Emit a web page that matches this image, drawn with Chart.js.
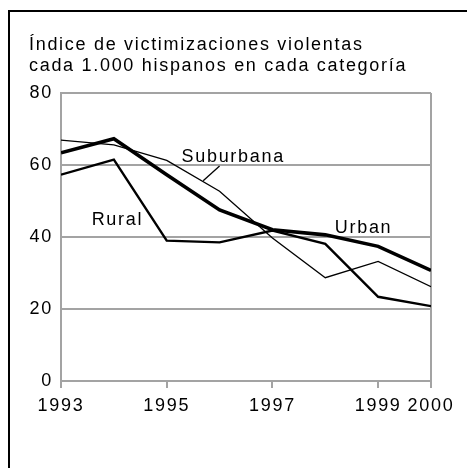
<!DOCTYPE html>
<html>
<head>
<meta charset="utf-8">
<script src="https://cdn.jsdelivr.net/npm/chart.js@4/dist/chart.umd.min.js"></script>
<style>
  body { margin: 0; background: #fff; }
  #marco { position: absolute; left: 8px; top: 10px; width: 600px; height: 600px;
           border-top: 2px solid #000; border-left: 2px solid #000; }
  #grafico { position: absolute; left: 0; top: 0; }
</style>
</head>
<body>
<div id="marco"></div>
<canvas id="grafico" width="467" height="468"></canvas>
<script>
// datos
const years = [1993, 1994, 1995, 1996, 1997, 1998, 1999, 2000];
const urban = [63.4, 67.3, 57.3, 47.5, 42.0, 40.6, 37.4, 30.7];
const suburbana = [66.9, 65.6, 61.3, 52.7, 39.7, 28.7, 33.2, 26.2];
const rural = [57.3, 61.5, 39.0, 38.5, 41.8, 38.1, 23.4, 20.8];
const xTicks = [1993, 1995, 1997, 1999, 2000];
const yTicks = [0, 20, 40, 60, 80];
const titulo = ['Índice de victimizaciones violentas', 'cada 1.000 hispanos en cada categoría'];

// etiquetas de las series (posición en unidades de los ejes)
const etiquetas = [
  { text: 'Suburbana', x: 1995.28, y: 60.7 },
  { text: 'Rural', x: 1993.58, y: 43.3 },
  { text: 'Urban', x: 1998.18, y: 41.2 }
];
const guiaSuburbana = [[1996.0, 59.7], [1995.69, 55.6]];

const gris = '#a3a3a3';
const fuente = '"Liberation Sans", Arial, Helvetica, sans-serif';

const toPoints = (vals) => vals.map((v, i) => ({ x: years[i], y: v }));

const espaciado = {
  id: 'espaciado',
  beforeLayout(chart) { chart.ctx.letterSpacing = '1.7px'; },
  beforeDraw(chart) { chart.ctx.letterSpacing = '1.7px'; },
  afterDatasetsDraw(chart) {
    const ctx = chart.ctx;
    const sx = chart.scales.x, sy = chart.scales.y;
    ctx.save();
    ctx.font = '18px ' + fuente;
    ctx.fillStyle = '#000';
    ctx.textBaseline = 'alphabetic';
    ctx.textAlign = 'left';
    etiquetas.forEach(e => {
      ctx.fillText(e.text, sx.getPixelForValue(e.x), sy.getPixelForValue(e.y));
    });
    ctx.strokeStyle = '#000';
    ctx.lineWidth = 1.3;
    ctx.beginPath();
    ctx.moveTo(sx.getPixelForValue(guiaSuburbana[0][0]), sy.getPixelForValue(guiaSuburbana[0][1]));
    ctx.lineTo(sx.getPixelForValue(guiaSuburbana[1][0]), sy.getPixelForValue(guiaSuburbana[1][1]));
    ctx.stroke();
    ctx.restore();
  }
};

const ctx = document.getElementById('grafico').getContext('2d');
const myChart = new Chart(ctx, {
  type: 'line',
  data: {
    datasets: [
      { label: 'Urban', data: toPoints(urban), borderColor: '#000', borderWidth: 3.6 },
      { label: 'Suburbana', data: toPoints(suburbana), borderColor: '#000', borderWidth: 1.3 },
      { label: 'Rural', data: toPoints(rural), borderColor: '#000', borderWidth: 2.4 }
    ]
  },
  options: {
    responsive: false,
    animation: false,
    devicePixelRatio: 1,
    layout: { padding: { left: 29, right: 36, top: 0, bottom: 47 } },
    elements: { point: { radius: 0 }, line: { tension: 0, fill: false } },
    plugins: {
      legend: { display: false },
      tooltip: { enabled: false },
      title: {
        display: true,
        text: titulo,
        align: 'start',
        color: '#000',
        font: { family: fuente, size: 18, weight: 'normal', lineHeight: '21px' },
        padding: { top: 35, bottom: 16 }
      }
    },
    scales: {
      x: {
        type: 'linear',
        min: 1993,
        max: 2000,
        afterBuildTicks: (scale) => { scale.ticks = xTicks.map(v => ({ value: v })); },
        afterFit: (scale) => { scale.height = 40; },
        ticks: {
          color: '#000',
          font: { family: fuente, size: 18 },
          padding: 7,
          maxRotation: 0,
          autoSkip: false,
          callback: (v) => String(v)
        },
        grid: {
          color: (c) => (c.tick && (c.tick.value === 1993 || c.tick.value === 2000)) ? gris : 'rgba(0,0,0,0)',
          tickColor: gris,
          tickLength: 7,
          lineWidth: 2
        },
        border: { color: gris, width: 2 }
      },
      y: {
        min: 0,
        max: 80,
        afterBuildTicks: (scale) => { scale.ticks = yTicks.map(v => ({ value: v })); },
        afterFit: (scale) => { scale.width = 32; },
        ticks: {
          color: '#000',
          font: { family: fuente, size: 18 },
          padding: 8
        },
        grid: { color: gris, lineWidth: 2, drawTicks: false },
        border: { color: gris, width: 2 }
      }
    }
  },
  plugins: [espaciado]
});
</script>
</body>
</html>
